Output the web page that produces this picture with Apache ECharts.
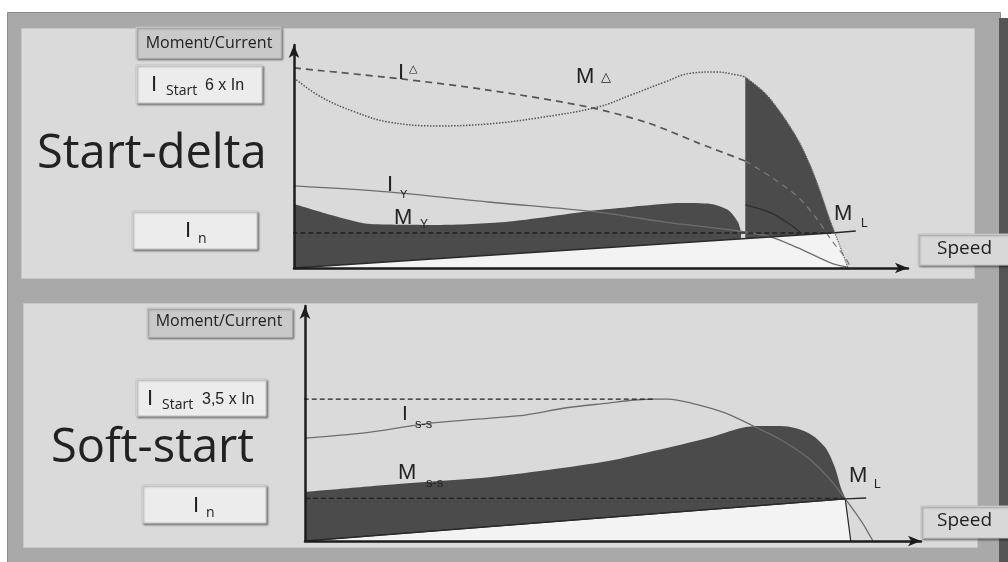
<!DOCTYPE html>
<html>
<head>
<meta charset="utf-8">
<script src="https://cdn.jsdelivr.net/npm/echarts@6/dist/echarts.min.js"></script>
<style>
  html, body { margin: 0; padding: 0; background: #fff; }
  #chart { width: 1008px; height: 562px; }
</style>
</head>
<body>
<div id="chart"></div>
<script>
// x = speed (% of axis), y = moment / current (% of axis)

// star-delta start
const iDelta = [[0, 89.7], [17.4, 84.8], [31.6, 79.8], [47.9, 72.2], [57.7, 65.0], [65.8, 56.1], [73.5, 48.0]]
const iDeltaAfter = [[73.5, 48.0], [77.7, 40.8], [82.1, 31.8], [85.3, 21.5], [87.5, 12.6], [89.7, 4.9], [90.7, 0.4]]
const mDelta = [[0, 85.2], [4.4, 76.7], [9.9, 70.0], [15.3, 65.5], [23.5, 63.7], [31.6, 64.6], [39.7, 67.3], [49.5, 72.2], [54.9, 77.6], [60.4, 83.4], [64.7, 87.4], [68.6, 87.9], [72.3, 86.5], [73.5, 85.7]]
const mDeltaAfter = [[73.5, 85.7], [76.7, 78.5], [79.3, 69.5], [82.1, 57.4], [84.2, 45.3], [85.8, 33.6], [87.3, 21.5], [88.1, 15.7], [90.2, 0.4]]
const mStar = [[0, 28.7], [7.2, 22.9], [12.5, 19.7], [23.5, 19.3], [34.4, 20.6], [49.5, 26.0], [54.9, 27.4], [63.0, 29.1], [67.9, 28.7], [70.7, 26.0], [72.3, 20.6], [72.8, 16.1]]
const mStarAfter = [[73.5, 28.3], [77.7, 24.7], [80.9, 19.3], [82.6, 15.7]]
const iStar = [[0, 36.8], [15.3, 34.1], [31.6, 29.6], [49.5, 25.1], [60.4, 20.6], [72.3, 16.6], [77.7, 13.9], [82.1, 9.0], [87.5, 2.2], [90.2, 0.4]]
const loadDelta = [[0, 0], [88.1, 15.8], [91.5, 16.6]]
const freeDelta = [[0, 0], [88.1, 15.8], [90.2, 0.4]]
const nominalDelta = [[-5.5, 15.7], [87.5, 15.7]]

// soft start
const iSoft = [[0, 43.8], [9.7, 46.0], [20.5, 50.2], [35.7, 53.6], [42.2, 56.6], [49.2, 58.7], [53.6, 60.0], [56.8, 60.4], [58.9, 60.4], [62.7, 58.7], [68.2, 54.5], [73.1, 48.5], [77.3, 43.0], [81.7, 35.3], [84.9, 27.2], [87.0, 20.4], [90.3, 8.5], [92.2, 0]]
const mSoft = [[0, 20.9], [15.1, 24.3], [28.6, 26.8], [39.4, 30.2], [49.2, 34.0], [57.3, 38.7], [65.4, 43.8], [70.8, 48.1], [74.0, 48.9], [77.3, 48.9], [81.7, 46.0], [84.4, 40.0], [86.0, 31.5], [87.0, 22.6], [87.7, 17.9], [88.6, 0]]
const loadSoft = [[0, 0], [87.7, 17.9], [91.1, 18.3]]
const freeSoft = [[0, 0], [87.7, 17.9], [88.6, 0]]
const startSoft = [[-4.1, 60.4], [56.8, 60.4]]
const nominalSoft = [[-3.9, 18.1], [87.7, 18.1]]

const DARK = '#4b4b4b'
const LIGHT = '#f3f3f3'

function curve(g, data, style, more) {
  return Object.assign({
    type: 'line',
    xAxisIndex: g,
    yAxisIndex: g,
    data: data,
    symbol: 'none',
    smooth: 0.3,
    clip: false,
    silent: true,
    lineStyle: style
  }, more)
}

function area(g, data, color, smooth) {
  return curve(g, data, { width: 0 }, { smooth: smooth, areaStyle: { color: color, opacity: 1 } })
}

function axis(g, dir) {
  return {
    gridIndex: g,
    type: 'value',
    min: 0,
    max: 100,
    z: 6,
    axisLine: {
      show: true,
      onZero: false,
      symbol: ['none', 'arrow'],
      symbolSize: [8, 13],
      lineStyle: { color: '#1c1c1c', width: 2.5 }
    },
    axisTick: { show: false },
    axisLabel: { show: false },
    splitLine: { show: false }
  }
}

function txt(x, y, s, size, font, align) {
  return {
    type: 'text', z: 100, x: x, y: y,
    style: {
      text: s, fill: '#222', font: size + 'px ' + font,
      textAlign: align || 'left', align: align || 'left',
      textVerticalAlign: 'middle', verticalAlign: 'middle'
    }
  }
}

function box(x, y, w, h, fill) {
  return {
    type: 'rect', z: 90,
    shape: { x: x, y: y, width: w, height: h },
    style: {
      fill: fill, stroke: '#c4c4c4', lineWidth: 1,
      shadowBlur: 2, shadowOffsetX: 1.5, shadowOffsetY: 1.5, shadowColor: 'rgba(0,0,0,0.35)'
    }
  }
}

function bg(x, y, w, h, fill, stroke) {
  return { type: 'rect', z: -10, shape: { x: x, y: y, width: w, height: h }, style: { fill: fill, stroke: stroke || null, lineWidth: 1 } }
}

const SANS = '"Open Sans", sans-serif'
const ARIAL = '"Liberation Sans", Arial, sans-serif'
const SYM = '"DejaVu Sans", sans-serif'

let myChart = echarts.init(document.getElementById('chart'), null, { renderer: 'canvas' })
myChart.setOption({
  backgroundColor: '#ffffff',
  animation: false,
  grid: [
    { left: 294, top: 45, width: 614, height: 223 },
    { left: 305, top: 306, width: 616, height: 235 }
  ],
  xAxis: [axis(0), axis(1)],
  yAxis: [axis(0), axis(1)],
  graphic: [
    // frame and panels
    bg(7.5, 12.5, 993, 560, '#a9a9a9', '#8c8c8c'),
    bg(999, 18, 12, 560, '#555555'),
    bg(21.5, 28.5, 953, 250, '#dadada', '#c6c6c6'),
    bg(23.5, 303.5, 954, 244, '#dadada', '#c6c6c6'),

    // star-delta panel boxes
    box(136, 27, 145, 31, '#c9c9c9'),
    txt(209, 43, 'Moment/Current', 16, SANS, 'center'),
    box(136, 65, 126, 38, '#ececec'),
    txt(151, 85, 'I', 22, ARIAL),
    txt(166, 91, 'Start', 14, SANS),
    txt(205, 86, '6 x In', 16, ARIAL),
    box(132, 211, 125, 38, '#ececec'),
    txt(185, 231, 'I', 22, ARIAL),
    txt(198, 239, 'n', 14, SANS),
    box(918, 234, 95, 31, '#d8d8d8'),
    txt(937, 249, 'Speed', 19, SANS),
    txt(37, 155, 'Start-delta', 47, SANS),

    // star-delta curve labels
    txt(398, 73, 'I', 22, ARIAL),
    txt(409, 69, '△', 11, SYM),
    txt(576, 77, 'M', 22, ARIAL),
    txt(601, 78, '△', 13, SYM),
    txt(387, 185, 'I', 22, ARIAL),
    txt(400, 195, 'Y', 11, ARIAL),
    txt(394, 218, 'M', 22, ARIAL),
    txt(420, 225, 'Y', 12, ARIAL),
    txt(834, 214, 'M', 22, ARIAL),
    txt(861, 224, 'L', 12, ARIAL),

    // soft start panel boxes
    box(147, 308, 145, 29, '#c9c9c9'),
    txt(219, 321, 'Moment/Current', 16, SANS, 'center'),
    box(136, 379, 130, 37, '#ececec'),
    txt(147, 398.5, 'I', 22, ARIAL),
    txt(162, 405, 'Start', 14, SANS),
    txt(202, 399.5, '3,5 x In', 16, ARIAL),
    box(142, 485, 124, 38, '#ececec'),
    txt(193, 506, 'I', 22, ARIAL),
    txt(206, 513, 'n', 14, SANS),
    box(921, 506, 92, 32, '#d8d8d8'),
    txt(937, 521, 'Speed', 19, SANS),
    txt(51, 449, 'Soft-start', 47, SANS),

    // soft start curve labels
    txt(402, 414, 'I', 21, ARIAL),
    txt(415, 424, 's-s', 13, ARIAL),
    txt(398, 473, 'M', 22, ARIAL),
    txt(426, 483, 's-s', 13, ARIAL),
    txt(849, 476, 'M', 22, ARIAL),
    txt(874, 485, 'L', 12, ARIAL)
  ],
  series: [
    // star-delta
    area(0, mStar, DARK, 0.25),
    area(0, mDeltaAfter, DARK, 0.3),
    area(0, freeDelta, LIGHT, false),
    curve(0, iStar, { color: '#6e6e6e', width: 1.3 }),
    curve(0, mStarAfter, { color: '#2e2e2e', width: 1.3 }),
    curve(0, iDeltaAfter, { color: '#7c7c7c', width: 1.2, type: [6, 5] }),
    curve(0, mDeltaAfter, { color: '#666', width: 1.2, type: 'dotted' }),
    curve(0, nominalDelta, { color: '#222', width: 1.3, type: [5, 3] }, { smooth: false }),
    curve(0, loadDelta, { color: '#2a2a2a', width: 1.3 }, { smooth: false }),
    curve(0, iDelta, { color: '#555', width: 1.7, type: [7, 5] }),
    curve(0, mDelta, { color: '#555', width: 1.5, type: 'dotted' }, { smooth: 0.4 }),

    // soft start
    area(1, mSoft, DARK, 0.3),
    curve(1, freeSoft, { color: '#2a2a2a', width: 1.2 }, { smooth: false, areaStyle: { color: LIGHT, opacity: 1 } }),
    curve(1, iSoft, { color: '#6e6e6e', width: 1.3 }),
    curve(1, nominalSoft, { color: '#222', width: 1.3, type: [5, 3] }, { smooth: false }),
    curve(1, startSoft, { color: '#222', width: 1.3, type: [5, 3] }, { smooth: false }),
    curve(1, loadSoft, { color: '#2a2a2a', width: 1.3 }, { smooth: false })
  ]
})
</script>
</body>
</html>
